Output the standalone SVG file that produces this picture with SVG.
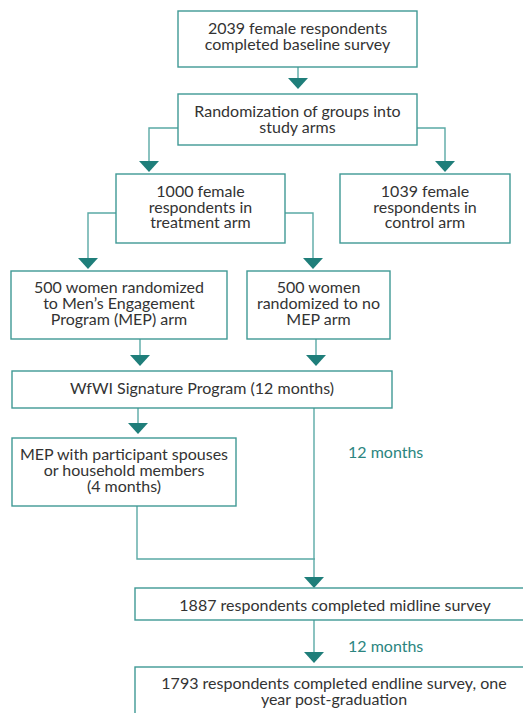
<svg xmlns="http://www.w3.org/2000/svg" width="523" height="713" viewBox="0 0 523 713">
<style>
.box{fill:#fff;stroke:#3f9995;stroke-width:1.4}
.t{font-family:Lato,"Open Sans",sans-serif;font-size:16px;fill:#333;text-anchor:middle}
.m{font-family:Lato,"Open Sans",sans-serif;font-size:16px;fill:#2b8580}
.ln{fill:none;stroke:#5aa9a5;stroke-width:1.4}
.ah{fill:#1f7e7a}
</style>
<rect width="523" height="713" fill="#fff"/>
<g id="connectors">
<line class="ln" x1="298" y1="67" x2="298" y2="86"/>
<polygon class="ah" points="288,78 308,78 298,89"/>
<path class="ln" d="M178,128 H149 V170"/>
<polygon class="ah" points="139,161 159,161 149,172"/>
<path class="ln" d="M417,128 H445 V170"/>
<polygon class="ah" points="435,161 455,161 445,172"/>
<path class="ln" d="M116,213 H88 V267"/>
<polygon class="ah" points="78,258 98,258 88,269"/>
<path class="ln" d="M285,213 H313 V267"/>
<polygon class="ah" points="303,258 323,258 313,269"/>
<path class="ln" d="M140,339 V364"/>
<polygon class="ah" points="130,355 150,355 140,366"/>
<path class="ln" d="M316,339 V364"/>
<polygon class="ah" points="306,355 326,355 316,366"/>
<path class="ln" d="M138,408 V432"/>
<polygon class="ah" points="128,423 148,423 138,434"/>
<path class="ln" d="M137,506 V559 H315"/>
<path class="ln" d="M314,408 V586"/>
<polygon class="ah" points="304,577 324,577 314,588"/>
<path class="ln" d="M314,620 V661"/>
<polygon class="ah" points="304,652 324,652 314,663"/>
<text class="m" x="348" y="458">12 months</text>
<text class="m" x="348" y="652">12 months</text>
</g>
<g id="n1"><rect class="box" x="178" y="11" width="239" height="56"/>
<text class="t" x="297.5" y="34">2039 female respondents</text>
<text class="t" x="297.5" y="50">completed baseline survey</text></g>
<g id="n2"><rect class="box" x="178" y="94" width="239" height="51"/>
<text class="t" x="297.5" y="117">Randomization of groups into</text>
<text class="t" x="297.5" y="133">study arms</text></g>
<g id="n3"><rect class="box" x="116" y="174" width="169" height="69"/>
<text class="t" x="200.5" y="197">1000 female</text>
<text class="t" x="200.5" y="213">respondents in</text>
<text class="t" x="200.5" y="228">treatment arm</text></g>
<g id="n4"><rect class="box" x="340" y="174" width="170" height="69"/>
<text class="t" x="425" y="197">1039 female</text>
<text class="t" x="425" y="213">respondents in</text>
<text class="t" x="425" y="228">control arm</text></g>
<g id="n5"><rect class="box" x="11" y="271" width="216" height="68"/>
<text class="t" x="119" y="293">500 women randomized</text>
<text class="t" x="119" y="309">to Men’s Engagement</text>
<text class="t" x="119" y="325">Program (MEP) arm</text></g>
<g id="n6"><rect class="box" x="247" y="271" width="143" height="68"/>
<text class="t" x="318.5" y="293">500 women</text>
<text class="t" x="318.5" y="309">randomized to no</text>
<text class="t" x="318.5" y="325">MEP arm</text></g>
<g id="n7"><rect class="box" x="12" y="371" width="380" height="37"/>
<text class="t" x="202" y="394">WfWI Signature Program (12 months)</text></g>
<g id="n8"><rect class="box" x="12" y="438" width="224" height="68"/>
<text class="t" x="124" y="460">MEP with participant spouses</text>
<text class="t" x="124" y="476">or household members</text>
<text class="t" x="124" y="492">(4 months)</text></g>
<g id="n9"><rect class="box" x="135" y="588" width="400" height="32"/>
<text class="t" x="335" y="611">1887 respondents completed midline survey</text></g>
<g id="n10"><rect class="box" x="135" y="667" width="400" height="60"/>
<text class="t" x="334" y="689">1793 respondents completed endline survey, one</text>
<text class="t" x="334" y="705">year post-graduation</text></g>
</svg>
